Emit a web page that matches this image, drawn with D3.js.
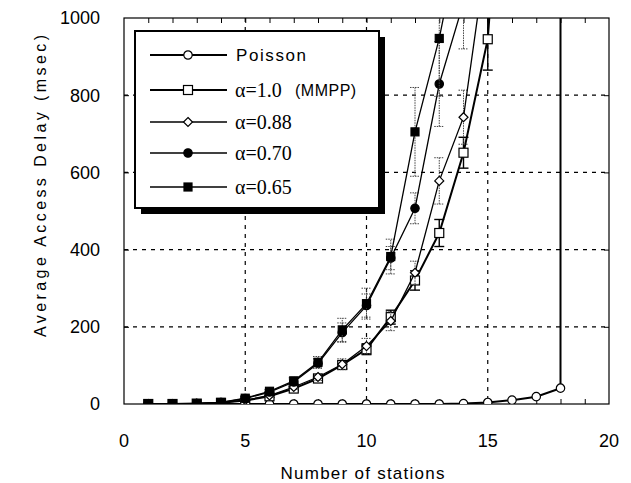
<!DOCTYPE html>
<html>
<head>
<meta charset="utf-8">
<script src="https://cdn.jsdelivr.net/npm/d3@7/dist/d3.min.js"></script>
<style>
  body { margin: 0; background: #fff; }
  text { fill: #000; }
</style>
</head>
<body>
<svg id="delay-chart" width="631" height="483"></svg>
<script>
// ---- data ----
const xTicks = [0, 5, 10, 15, 20];
const yTicks = [0, 200, 400, 600, 800, 1000];

const poissonX = [1, 2, 3, 4, 5, 6, 7, 8, 9, 10, 11, 12, 13, 14, 15, 16, 17, 18, 18];
const poissonY = [0, 0, 0, 0, 0, 0, 0, 0, 0, 0, 0, 0, 0, 1, 4, 10, 19, 41, 3000];

const mmppX = [1, 2, 3, 4, 5, 6, 7, 8, 9, 10, 11, 12, 13, 14, 15, 16];
const mmppY = [0, 0, 1, 3, 9, 20, 40, 66, 101, 142, 225, 320, 443, 651, 945, 1800];
const mmppErr = [0, 0, 0, 1, 2, 3, 5, 7, 10, 14, 18, 25, 35, 40, 80, 0];

const a88X = [1, 2, 3, 4, 5, 6, 7, 8, 9, 10, 11, 12, 13, 14, 15];
const a88Y = [0, 0, 1, 3, 10, 22, 44, 70, 103, 150, 215, 340, 578, 743, 1190];
const a88Err = [0, 0, 0, 1, 2, 4, 6, 9, 14, 20, 25, 30, 60, 70, 0];

const a70X = [1, 2, 3, 4, 5, 6, 7, 8, 9, 10, 11, 12, 13, 14];
const a70Y = [0, 0, 1, 4, 14, 31, 57, 105, 185, 255, 378, 507, 829, 1040];
const a70Err = [0, 0, 0, 1, 3, 5, 8, 12, 25, 30, 30, 40, 110, 120];

const a65X = [1, 2, 3, 4, 5, 6, 7, 8, 9, 10, 11, 12, 13, 14];
const a65Y = [0, 0, 1, 4, 15, 33, 60, 108, 192, 260, 382, 705, 947, 1260];
const a65Err = [0, 0, 0, 1, 3, 5, 9, 15, 30, 40, 45, 115, 150, 200];

const legendLabels = ["Poisson", "α=1.0", "α=0.88", "α=0.70", "α=0.65"];

// ---- layout ----
const width = 631, height = 483;
const margin = { top: 18, right: 22, bottom: 79, left: 124 };
const chartWidth = width - margin.left - margin.right;
const chartHeight = height - margin.top - margin.bottom;

const svg = d3.select('#delay-chart');
const g = svg.append('g').attr('transform', `translate(${margin.left},${margin.top})`);

const x = d3.scaleLinear().domain([0, 20]).range([0, chartWidth]);
const y = d3.scaleLinear().domain([0, 1000]).range([chartHeight, 0]);

svg.append('defs').append('clipPath').attr('id', 'plot-clip')
    .append('rect').attr('width', chartWidth).attr('height', chartHeight);

// dashed grid
g.append('g').selectAll('line')
    .data([5, 10, 15]).enter().append('line')
    .attr('x1', d => x(d)).attr('x2', d => x(d))
    .attr('y1', 0).attr('y2', chartHeight)
    .attr('stroke', '#000').attr('stroke-width', 1.2).attr('stroke-dasharray', '4,5');
g.append('g').selectAll('line')
    .data([200, 400, 600, 800]).enter().append('line')
    .attr('x1', 0).attr('x2', chartWidth)
    .attr('y1', d => y(d)).attr('y2', d => y(d))
    .attr('stroke', '#000').attr('stroke-width', 1.2).attr('stroke-dasharray', '4,5');

// frame + inward ticks
g.append('rect').attr('width', chartWidth).attr('height', chartHeight)
    .attr('fill', 'none').attr('stroke', '#000').attr('stroke-width', 1.2);

const unitTicks = d3.range(1, 20);
g.append('g').call(d3.axisBottom(x).tickValues(unitTicks).tickSize(-5).tickFormat(''))
    .attr('transform', `translate(0,${chartHeight})`).call(a => a.select('.domain').remove());
g.append('g').call(d3.axisTop(x).tickValues(unitTicks).tickSize(-5).tickFormat(''))
    .call(a => a.select('.domain').remove());
g.append('g').call(d3.axisLeft(y).tickValues([200, 400, 600, 800]).tickSize(-5).tickFormat(''))
    .call(a => a.select('.domain').remove());
g.append('g').call(d3.axisRight(y).tickValues([200, 400, 600, 800]).tickSize(-5).tickFormat(''))
    .attr('transform', `translate(${chartWidth},0)`).call(a => a.select('.domain').remove());

// tick labels
g.append('g').selectAll('text')
    .data(xTicks).enter().append('text')
    .attr('x', d => x(d)).attr('y', chartHeight + 43)
    .attr('text-anchor', 'middle')
    .style('font-family', '"Liberation Sans", Arial, sans-serif')
    .style('font-size', '18px')
    .text(d => d);
g.append('g').selectAll('text')
    .data(yTicks).enter().append('text')
    .attr('x', -24).attr('y', d => y(d)).attr('dy', '0.36em')
    .attr('text-anchor', 'end')
    .style('font-family', '"Liberation Sans", Arial, sans-serif')
    .style('font-size', '18px')
    .text(d => d);

// axis titles
svg.append('text')
    .attr('x', margin.left + chartWidth / 2 - 4).attr('y', 479)
    .attr('text-anchor', 'middle')
    .attr('textLength', 164).attr('lengthAdjust', 'spacing')
    .style('font-family', '"Liberation Sans", Arial, sans-serif')
    .style('font-size', '17px')
    .text('Number of stations');
svg.append('text')
    .attr('transform', 'translate(46,186) rotate(-90)')
    .attr('text-anchor', 'middle')
    .attr('textLength', 302).attr('lengthAdjust', 'spacing')
    .style('font-family', '"Liberation Sans", Arial, sans-serif')
    .style('font-size', '16px')
    .text('Average Access Delay (msec)');

// ---- series ----
const series = [
    { xs: poissonX, ys: poissonY, err: null, marker: 'circle', fill: '#fff', width: 2, errDash: null },
    { xs: mmppX, ys: mmppY, err: mmppErr, marker: 'square', fill: '#fff', width: 2, errDash: null },
    { xs: a88X, ys: a88Y, err: a88Err, marker: 'diamond', fill: '#fff', width: 1.3, errDash: '1.5,1' },
    { xs: a70X, ys: a70Y, err: a70Err, marker: 'circle', fill: '#000', width: 1.3, errDash: '1.5,1' },
    { xs: a65X, ys: a65Y, err: a65Err, marker: 'square', fill: '#000', width: 1.3, errDash: '1.5,1' }
];

function drawMarker(sel, type, fill) {
    if (type === 'circle') {
        sel.append('circle').attr('r', 4.2).attr('fill', fill).attr('stroke', '#000').attr('stroke-width', 1.2);
    } else if (type === 'square') {
        const s = fill === '#000' ? 8 : 9;
        sel.append('rect').attr('x', -s / 2).attr('y', -s / 2).attr('width', s).attr('height', s)
            .attr('fill', fill).attr('stroke', '#000').attr('stroke-width', 1.2);
    } else {
        sel.append('path').attr('d', 'M0,-4.5L4.5,0L0,4.5L-4.5,0Z')
            .attr('fill', fill).attr('stroke', '#000').attr('stroke-width', 1.2);
    }
}

const plot = g.append('g').attr('clip-path', 'url(#plot-clip)');
const line = d3.line().x(d => x(d[0])).y(d => y(d[1]));

series.forEach(s => {
    const pts = s.xs.map((v, i) => [v, s.ys[i], s.err ? s.err[i] : 0]);
    // error bars
    if (s.err) {
        const eb = plot.append('g')
            .attr('stroke', s.errDash ? '#444' : '#000')
            .attr('stroke-width', s.errDash ? 1 : 1.4)
            .attr('stroke-dasharray', s.errDash);
        pts.filter(p => p[2] > 2).forEach(p => {
            eb.append('line').attr('x1', x(p[0])).attr('x2', x(p[0]))
                .attr('y1', y(p[1] - p[2])).attr('y2', y(p[1] + p[2]));
            [p[1] - p[2], p[1] + p[2]].forEach(v => {
                eb.append('line').attr('x1', x(p[0]) - 5).attr('x2', x(p[0]) + 5)
                    .attr('y1', y(v)).attr('y2', y(v));
            });
        });
    }
    plot.append('path').datum(pts)
        .attr('d', line).attr('fill', 'none')
        .attr('stroke', '#000').attr('stroke-width', s.width);
    plot.append('g').selectAll('g')
        .data(pts.filter(p => p[1] <= 1000)).enter().append('g')
        .attr('transform', p => `translate(${x(p[0])},${y(p[1])})`)
        .each(function () { drawMarker(d3.select(this), s.marker, s.fill); });
});

// ---- legend ----
const legend = svg.append('g').attr('transform', 'translate(135,31)');
legend.append('rect').attr('x', 6).attr('y', 6).attr('width', 244).attr('height', 177).attr('fill', '#000');
legend.append('rect').attr('width', 244).attr('height', 177)
    .attr('fill', '#fff').attr('stroke', '#000').attr('stroke-width', 2);

const rowY = [24, 59, 91, 122, 156];
legendLabels.forEach((label, i) => {
    const row = legend.append('g').attr('transform', `translate(0,${rowY[i]})`);
    row.append('line').attr('x1', 15).attr('x2', 92).attr('y1', 0).attr('y2', 0)
        .attr('stroke', '#000').attr('stroke-width', series[i].width);
    const m = row.append('g').attr('transform', 'translate(53,0)');
    drawMarker(m, series[i].marker, series[i].fill);
    if (i === 0) {
        row.append('text').attr('x', 101).attr('y', 6)
            .style('font-family', '"Liberation Sans", Arial, sans-serif')
            .style('font-size', '17px').style('letter-spacing', '1.6px')
            .text(label);
    } else {
        row.append('text').attr('x', 100).attr('y', 7)
            .style('font-family', '"Liberation Serif", "Times New Roman", serif')
            .style('font-size', '20px')
            .text(label);
        if (i === 1) {
            row.append('text').attr('x', 160).attr('y', 6)
                .style('font-family', '"Liberation Sans", Arial, sans-serif')
                .style('font-size', '16px').style('letter-spacing', '0.5px')
                .text('(MMPP)');
        }
    }
});
</script>
</body>
</html>
